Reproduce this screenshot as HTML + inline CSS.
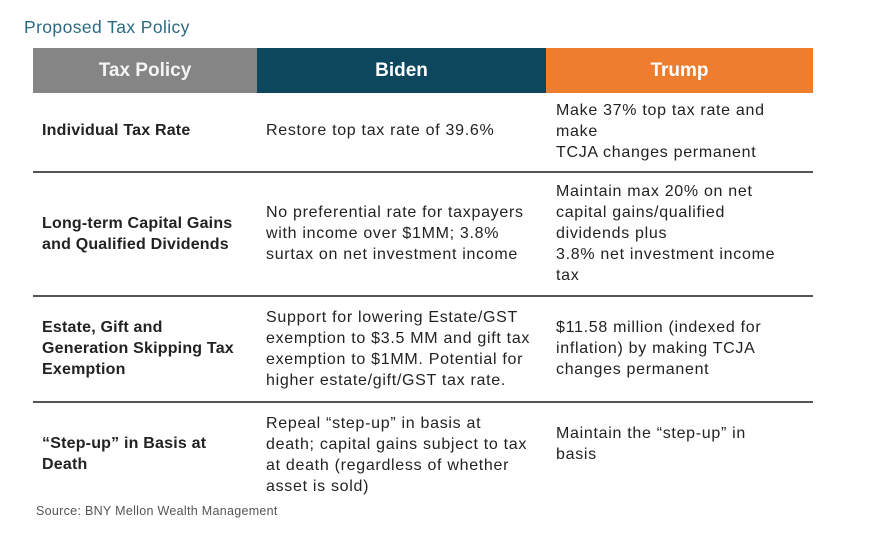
<!DOCTYPE html>
<html><head><style>
body{margin:0;width:873px;height:533px;background:#fff;position:relative;overflow:hidden;font-family:"Liberation Sans",Arial,sans-serif;color:#222}
.a{position:absolute;font-size:16px;letter-spacing:0.7px;line-height:21px;white-space:nowrap}
.b{font-weight:bold;letter-spacing:0.2px}
.h{position:absolute;top:48px;height:45px;color:#fff;font-size:19px;font-weight:bold;display:flex;align-items:center;justify-content:center}
.l{position:absolute;left:33px;width:780px;height:2px;background:#555}
</style></head><body>
<div class="a" style="left:24px;top:17px;font-size:17.5px;letter-spacing:0.4px;color:#2b6a82">Proposed Tax Policy</div>
<div class="h" style="left:33px;width:224px;background:#858585;color:#f4f4f4">Tax Policy</div>
<div class="h" style="left:257px;width:289px;background:#0d475e">Biden</div>
<div class="h" style="left:546px;width:267px;background:#ee7d2e">Trump</div>

<div class="a b" style="left:42px;top:120px">Individual Tax Rate</div>
<div class="a" style="left:266px;top:120px">Restore top tax rate of 39.6%</div>
<div class="a" style="left:556px;top:100px">Make 37% top tax rate and<br>make<br>TCJA changes permanent</div>
<div class="l" style="top:171px"></div>

<div class="a b" style="left:42px;top:213px">Long-term Capital Gains<br>and Qualified Dividends</div>
<div class="a" style="left:266px;top:202px">No preferential rate for taxpayers<br>with income over $1MM; 3.8%<br>surtax on net investment income</div>
<div class="a" style="left:556px;top:181px">Maintain max 20% on net<br>capital gains/qualified<br>dividends plus<br>3.8% net investment income<br>tax</div>
<div class="l" style="top:295px"></div>

<div class="a b" style="left:42px;top:317px">Estate, Gift and<br>Generation Skipping Tax<br>Exemption</div>
<div class="a" style="left:266px;top:307px">Support for lowering Estate/GST<br>exemption to $3.5 MM and gift tax<br>exemption to $1MM. Potential for<br>higher estate/gift/GST tax rate.</div>
<div class="a" style="left:556px;top:317px">$11.58 million (indexed for<br>inflation) by making TCJA<br>changes permanent</div>
<div class="l" style="top:401px"></div>

<div class="a b" style="left:42px;top:433px">“Step-up” in Basis at<br>Death</div>
<div class="a" style="left:266px;top:413px">Repeal “step-up” in basis at<br>death; capital gains subject to tax<br>at death (regardless of whether<br>asset is sold)</div>
<div class="a" style="left:556px;top:423px">Maintain the “step-up” in<br>basis</div>

<div class="a" style="left:36px;top:503px;font-size:12.5px;letter-spacing:0.3px;line-height:16px;color:#555">Source: BNY Mellon Wealth Management</div>
</body></html>
